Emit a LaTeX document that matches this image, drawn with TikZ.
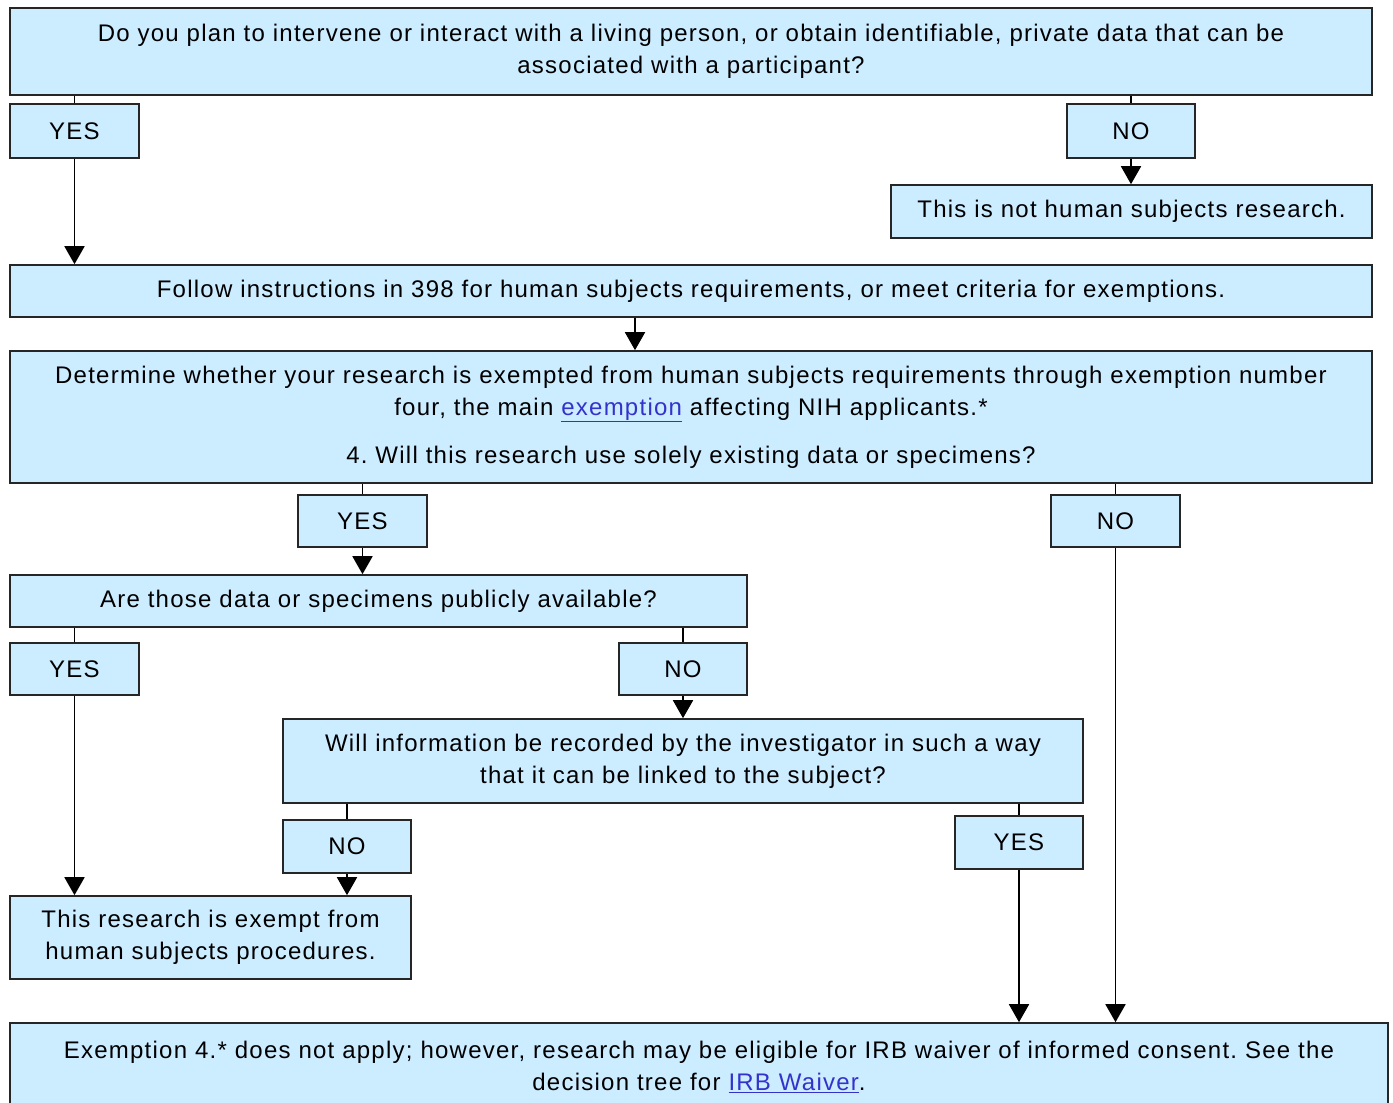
\documentclass[tikz,border=0pt]{standalone}
\usepackage{fontspec}
\setmainfont[LetterSpace=5.2]{Liberation Sans}
\usetikzlibrary{arrows.meta}
\frenchspacing

\definecolor{boxblue}{RGB}{204,236,255}
\definecolor{linkblue}{RGB}{51,51,204}
\newcommand{\weblink}[1]{\textcolor{linkblue}{\underline{#1}}}

\tikzset{
  box/.style={draw=black!85, fill=boxblue, line width=1.6pt, inner sep=0pt,
    align=center, font=\fontsize{24}{32}\selectfont},
  link/.style={line width=1.8pt},
  arr/.style={line width=1.8pt, -{Triangle[width=20pt,length=18pt]}}
}

\begin{document}
\begin{tikzpicture}[x=1pt,y=-1pt]
\useasboundingbox (0,0) rectangle (1393,1103);

\node[box, minimum width=1362, minimum height=87] (plan) at (691,51.5) {Do you plan to intervene or interact with a living person, or obtain identifiable, private data that can be\\associated with a participant?};
\node[box, minimum width=129, minimum height=54] (yesA) at (74.5,131) {YES};
\node[box, minimum width=128, minimum height=54] (noA) at (1131,131) {NO};
\node[box, minimum width=481, minimum height=53] (nothuman) at (1131.5,211.5) {This is not human subjects research.};
\node[box, minimum width=1362, minimum height=52] (follow) at (691,291) {Follow instructions in 398 for human subjects requirements, or meet criteria for exemptions.};
\node[box, minimum width=1362, minimum height=132] (determine) at (691,417) {Determine whether your research is exempted from human subjects requirements through exemption number\\four, the main \weblink{exemption} affecting NIH applicants.*\\[16pt]4. Will this research use solely existing data or specimens?};
\node[box, minimum width=129, minimum height=52] (yesB) at (362.5,521) {YES};
\node[box, minimum width=129, minimum height=52] (noB) at (1115.5,521) {NO};
\node[box, minimum width=737, minimum height=52] (public) at (378.5,601) {Are those data or specimens publicly available?};
\node[box, minimum width=129, minimum height=52] (yesC) at (74.5,669) {YES};
\node[box, minimum width=128, minimum height=52] (noC) at (683,669) {NO};
\node[box, minimum width=800, minimum height=84] (linked) at (683,761) {Will information be recorded by the investigator in such a way\\that it can be linked to the subject?};
\node[box, minimum width=128, minimum height=53] (noD) at (347,846.5) {NO};
\node[box, minimum width=128, minimum height=53] (yesD) at (1019,842.5) {YES};
\node[box, minimum width=401, minimum height=83] (exempt) at (210.5,937.5) {This research is exempt from\\human subjects procedures.};
\node[box, minimum width=1378, minimum height=87] (final) at (699,1066.5) {Exemption 4.* does not apply; however, research may be eligible for IRB waiver of informed consent. See the\\decision tree for \weblink{IRB Waiver}.};
\coordinate (drop) at (635,0);

% top question
\draw[link] (plan.south -| yesA) -- (yesA.north);
\draw[arr] (yesA.south) -- (follow.north -| yesA);
\draw[link] (plan.south -| noA) -- (noA.north);
\draw[arr] (noA.south) -- (nothuman.north -| noA);
\draw[arr] (follow.south -| drop) -- (determine.north -| drop);

% exemption four
\draw[link] (determine.south -| yesB) -- (yesB.north);
\draw[arr] (yesB.south) -- (public.north -| yesB);
\draw[link] (determine.south -| noB) -- (noB.north);
\draw[arr] (noB.south) -- (final.north -| noB);

% publicly available
\draw[link] (public.south -| yesC) -- (yesC.north);
\draw[arr] (yesC.south) -- (exempt.north -| yesC);
\draw[link] (public.south -| noC) -- (noC.north);
\draw[arr] (noC.south) -- (linked.north -| noC);

% linked to subject
\draw[link] (linked.south -| noD) -- (noD.north);
\draw[arr] (noD.south) -- (exempt.north -| noD);
\draw[link] (linked.south -| yesD) -- (yesD.north);
\draw[arr] (yesD.south) -- (final.north -| yesD);
\end{tikzpicture}
\end{document}
